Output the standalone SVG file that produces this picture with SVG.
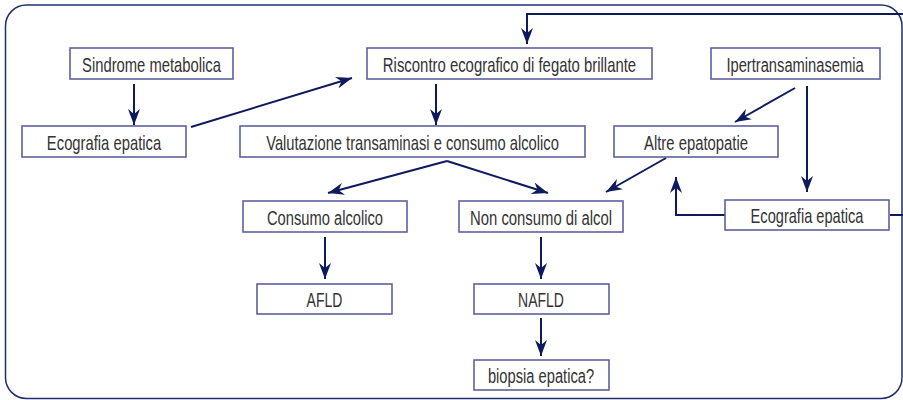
<svg xmlns="http://www.w3.org/2000/svg" width="903" height="400" viewBox="0 0 903 400">
<style>
.frame{fill:#fff;stroke:#1f2f6e;stroke-width:1.5}
.box{fill:#fff;stroke:#5d619e;stroke-width:1.6}
.lbl{font-family:"Liberation Sans",Arial,sans-serif;font-size:20px;fill:#333;text-anchor:middle}
.con{fill:none;stroke:#0d1a5c;stroke-width:2}
</style>
<defs>
<marker id="ah" viewBox="0 0 16 12" refX="16" refY="6" markerWidth="16" markerHeight="12" markerUnits="userSpaceOnUse" orient="auto">
<path d="M0,0 L16,6 L0,12 L5,6 Z" fill="#0d1a5c"/>
</marker>
</defs>
<rect class="frame" x="5.5" y="5" width="896.5" height="393.5" rx="21" ry="21"/>
<g id="connectors">
<path class="con" marker-end="url(#ah)" d="M134 84 V125"/>
<path class="con" marker-end="url(#ah)" d="M191 127 L352 78"/>
<path class="con" marker-end="url(#ah)" d="M436 84 V125"/>
<path class="con" marker-end="url(#ah)" d="M447 161 L328 193"/>
<path class="con" marker-end="url(#ah)" d="M447 161 L548 193"/>
<path class="con" marker-end="url(#ah)" d="M666 158 L606 192"/>
<path class="con" marker-end="url(#ah)" d="M795 88 L735 122"/>
<path class="con" marker-end="url(#ah)" d="M807 86 V192"/>
<path class="con" marker-end="url(#ah)" d="M725 215 H676 V177"/>
<path class="con" marker-end="url(#ah)" d="M890 215 H906 V14 H527 V44"/>
<path class="con" marker-end="url(#ah)" d="M325 237 V279"/>
<path class="con" marker-end="url(#ah)" d="M541 237 V279"/>
<path class="con" marker-end="url(#ah)" d="M541 318 V356"/>
</g>
<g id="sindrome"><rect class="box" x="70" y="48" width="163" height="31"/><text class="lbl" transform="translate(151.5 71.5) scale(0.74 1)">Sindrome metabolica</text></g>
<g id="ecografia1"><rect class="box" x="22" y="126" width="164" height="31"/><text class="lbl" transform="translate(104 149.5) scale(0.74 1)">Ecografia epatica</text></g>
<g id="riscontro"><rect class="box" x="367" y="48" width="285" height="31"/><text class="lbl" transform="translate(509.5 71.5) scale(0.745 1)">Riscontro ecografico di fegato brillante</text></g>
<g id="valutazione"><rect class="box" x="240" y="126" width="345" height="31"/><text class="lbl" transform="translate(412.5 149.5) scale(0.737 1)">Valutazione transaminasi e consumo alcolico</text></g>
<g id="ipertrans"><rect class="box" x="711" y="48" width="169" height="31"/><text class="lbl" transform="translate(795 71.5) scale(0.735 1)">Ipertransaminasemia</text></g>
<g id="altre"><rect class="box" x="614" y="126" width="164" height="31"/><text class="lbl" transform="translate(696 149.5) scale(0.742 1)">Altre epatopatie</text></g>
<g id="consumo"><rect class="box" x="243" y="201" width="164" height="31"/><text class="lbl" transform="translate(325 224.5) scale(0.735 1)">Consumo alcolico</text></g>
<g id="nonconsumo"><rect class="box" x="459" y="201" width="164" height="31"/><text class="lbl" transform="translate(541 224.5) scale(0.743 1)">Non consumo di alcol</text></g>
<g id="ecografia2"><rect class="box" x="725" y="200" width="164" height="30"/><text class="lbl" transform="translate(807 223) scale(0.73 1)">Ecografia epatica</text></g>
<g id="afld"><rect class="box" x="257" y="284" width="135" height="30"/><text class="lbl" transform="translate(324.5 307) scale(0.7 1)">AFLD</text></g>
<g id="nafld"><rect class="box" x="474" y="284" width="135" height="30"/><text class="lbl" transform="translate(541 307) scale(0.7 1)">NAFLD</text></g>
<g id="biopsia"><rect class="box" x="474" y="360" width="135" height="30"/><text class="lbl" transform="translate(541 383) scale(0.734 1)">biopsia epatica?</text></g>
</svg>
